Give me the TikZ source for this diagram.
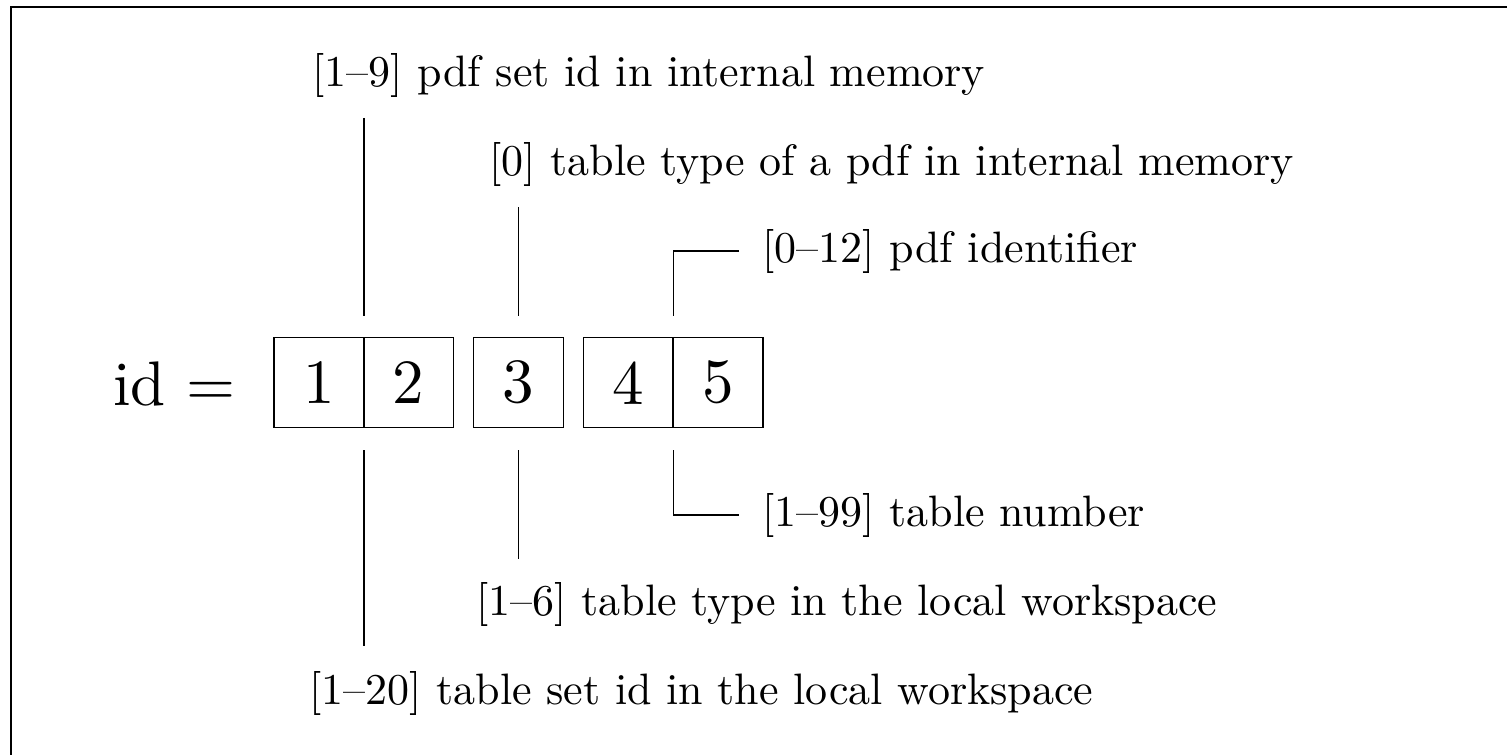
\documentclass[tikz,border=0pt]{standalone}
\usepackage{fontspec}
\setmainfont{lmroman10-regular.otf}
\begin{document}
\begin{tikzpicture}[x=0.5pt,y=-0.5pt,
  cell/.style={draw,line width=0.75pt,minimum width=45pt,minimum height=45pt,inner sep=0pt,font=\fontsize{31.5pt}{38pt}\selectfont},
  lbl/.style={anchor=west,inner sep=0pt,font=\fontsize{22pt}{26pt}\selectfont},
  conn/.style={line width=0.75pt}]
\useasboundingbox (0,0) rectangle (1507,754);
\draw[line width=1pt] (10.5,760) -- (10.5,7.5) -- (1510,7.5);
% cells
\node[cell] (b1) at (319,382.7) {1};
\node[cell] (b2) at (408.7,382.7) {2};
\node[cell] (b3) at (518.7,382.7) {3};
\node[cell] (b4) at (628.7,382.7) {4};
\node[cell] (b5) at (718,382.7) {5};
\node[anchor=base west,inner sep=0pt,font=\fontsize{31.5pt}{38pt}\selectfont] (id) at (113,405) {id =};
% labels
\node[lbl] (l1) at (312,75.8) {[1--9] pdf set id in internal memory};
\node[lbl] (l2) at (489,164.2) {[0] table type of a pdf in internal memory};
\node[lbl] (l5) at (762,251) {[0--12] pdf identifier};
\node[lbl] (l6) at (762,515) {[1--99] table number};
\node[lbl] (l3) at (476,604.2) {[1--6] table type in the local workspace};
\node[lbl] (l4) at (309,693.5) {[1--20] table set id in the local workspace};
% connector coordinates
\coordinate (t1a) at (364,118);   \coordinate (t1b) at (364,316);
\coordinate (t3a) at (518.3,207); \coordinate (t3b) at (518.3,316);
\coordinate (t5a) at (739,251);   \coordinate (t5c) at (673.3,251); \coordinate (t5b) at (673.3,316);
\coordinate (u1a) at (364,450);   \coordinate (u1b) at (364,646);
\coordinate (u3a) at (518.3,450); \coordinate (u3b) at (518.3,559);
\coordinate (u5a) at (673.3,450); \coordinate (u5c) at (673.3,515); \coordinate (u5b) at (739,515);
\draw[conn] (t1a) -- (t1b);
\draw[conn] (t3a) -- (t3b);
\draw[conn] (t5a) -- (t5c) -- (t5b);
\draw[conn] (u1a) -- (u1b);
\draw[conn] (u3a) -- (u3b);
\draw[conn] (u5a) -- (u5c) -- (u5b);
\end{tikzpicture}
\end{document}
